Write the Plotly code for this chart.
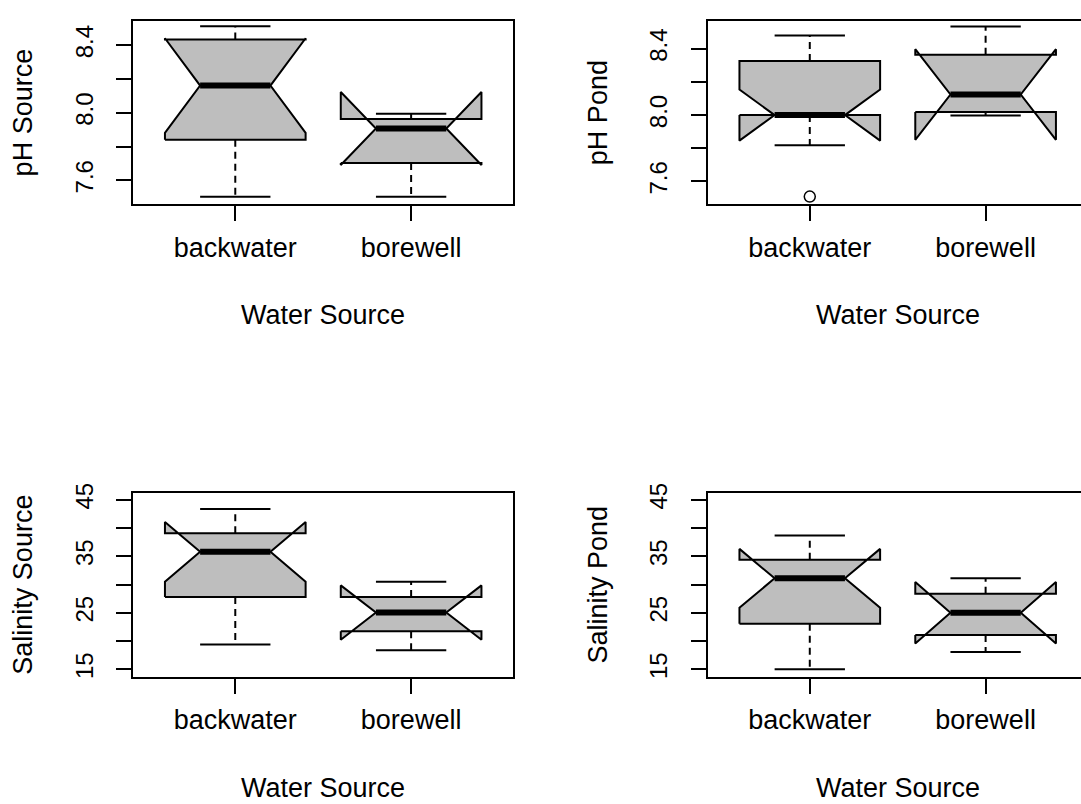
import plotly.graph_objects as go

# ---------------- data ----------------
categories = ["backwater", "borewell"]

ph_source_q1 = [7.840, 7.703]
ph_source_median = [8.161, 7.907]
ph_source_q3 = [8.434, 7.963]
ph_source_lower = [7.503, 7.503]
ph_source_upper = [8.512, 7.994]
ph_source_notch = [0.280, 0.216]

ph_pond_q1 = [8.000, 8.018]
ph_pond_median = [8.000, 8.124]
ph_pond_q3 = [8.326, 8.364]
ph_pond_lower = [7.818, 7.998]
ph_pond_upper = [8.479, 8.534]
ph_pond_notch = [0.154, 0.273]
ph_pond_outlier_cat = ["backwater"]
ph_pond_outlier = [7.509]

sal_source_q1 = [27.80, 21.75]
sal_source_median = [35.79, 25.05]
sal_source_q3 = [39.09, 27.78]
sal_source_lower = [19.40, 18.37]
sal_source_upper = [43.38, 30.50]
sal_source_notch = [5.27, 4.80]

sal_pond_q1 = [23.06, 21.09]
sal_pond_median = [31.10, 25.02]
sal_pond_q3 = [34.40, 28.38]
sal_pond_lower = [15.00, 18.07]
sal_pond_upper = [38.69, 31.10]
sal_pond_notch = [5.21, 5.45]

ph_tickvals = [7.6, 7.8, 8.0, 8.2, 8.4]
ph_ticktext = ["7.6", "", "8.0", "", "8.4"]
sal_tickvals = [15, 20, 25, 30, 35, 40, 45]
sal_ticktext = ["15", "", "25", "", "35", "", "45"]

x_title = "Water Source"

# ---------------- style ----------------
W, H = 1081, 804
FONT = "Liberation Sans, Arial, Helvetica, sans-serif"
FILL = "#bebebe"
BOX_WIDTH = 0.8      # box width in category units
NOTCH_FRAC = 0.5     # inner notch width relative to box (R default)
STAPLE_FRAC = 0.5    # whisker cap width relative to box (R default)
LINE_W = 2
XTITLE_OFFSET = 112.7  # px below the plot frame (centre of the x title)

positions = list(range(1, len(categories) + 1))


def px_x(v):
    return v / W


def px_y(v):
    return 1 - v / H


panels = [
    dict(ax="", title="pH Source", q1=ph_source_q1, med=ph_source_median, q3=ph_source_q3,
         lo=ph_source_lower, hi=ph_source_upper, notch=ph_source_notch,
         xdom=[px_x(133.3), px_x(513.1)], xr=[0.42, 2.58],
         bottom=197.3, top=11, yr=[7.458, 8.544],
         tv=ph_tickvals, tt=ph_ticktext, right=False),
    dict(ax="2", title="pH Pond", q1=ph_pond_q1, med=ph_pond_median, q3=ph_pond_q3,
         lo=ph_pond_lower, hi=ph_pond_upper, notch=ph_pond_notch,
         xdom=[px_x(707.8), 1.0], xr=[0.42, 0.42 + (W - 707.8) / 175.83],
         bottom=197.3, top=11, yr=[7.462, 8.568],
         tv=ph_tickvals, tt=ph_ticktext, right=True),
    dict(ax="3", title="Salinity Source", q1=sal_source_q1, med=sal_source_median, q3=sal_source_q3,
         lo=sal_source_lower, hi=sal_source_upper, notch=sal_source_notch,
         xdom=[px_x(133.3), px_x(513.1)], xr=[0.42, 2.58],
         bottom=676.7, top=490, yr=[13.72, 46.25],
         tv=sal_tickvals, tt=sal_ticktext, right=False),
    dict(ax="4", title="Salinity Pond", q1=sal_pond_q1, med=sal_pond_median, q3=sal_pond_q3,
         lo=sal_pond_lower, hi=sal_pond_upper, notch=sal_pond_notch,
         xdom=[px_x(707.8), 1.0], xr=[0.42, 0.42 + (W - 707.8) / 175.83],
         bottom=676.7, top=490, yr=[13.72, 46.25],
         tv=sal_tickvals, tt=sal_ticktext, right=True),
]

fig = go.Figure()
layout = dict(
    width=W, height=H, margin=dict(l=0, r=0, t=0, b=0),
    paper_bgcolor="white", plot_bgcolor="white", showlegend=False,
    font=dict(family=FONT, color="black"),
    annotations=[],
)

half = BOX_WIDTH / 2
# R's notched box outline: relative x offsets, paired with the stats used for y
BOX_XF = [-1, 1, 1, NOTCH_FRAC, 1, 1, -1, -1, -NOTCH_FRAC, -1, -1]

for p in panels:
    xa = "x" + p["ax"]
    ya = "y" + p["ax"]
    bx, by = [], []
    wx, wy = [], []
    cx, cy = [], []
    mx, my = [], []
    for i, pos in enumerate(positions):
        q1, med, q3 = p["q1"][i], p["med"][i], p["q3"][i]
        lo, hi = p["lo"][i], p["hi"][i]
        ln, un = med - p["notch"][i], med + p["notch"][i]
        ys = [q1, q1, ln, med, un, q3, q3, un, med, ln, q1]
        bx += [pos + f * half for f in BOX_XF] + [None]
        by += ys + [None]
        # whiskers from the hinges outward
        wx += [pos, pos, None, pos, pos, None]
        wy += [q1, lo, None, q3, hi, None]
        # staples
        s = half * STAPLE_FRAC
        cx += [pos - s, pos + s, None, pos - s, pos + s, None]
        cy += [lo, lo, None, hi, hi, None]
        # median
        m = half * NOTCH_FRAC
        mx += [pos - m, pos + m, None]
        my += [med, med, None]

    fig.add_trace(go.Scatter(
        x=wx, y=wy, mode="lines", line=dict(color="black", width=LINE_W, dash="7px,5px"),
        xaxis=xa, yaxis=ya, hoverinfo="skip",
    ))
    fig.add_trace(go.Scatter(
        x=cx, y=cy, mode="lines", line=dict(color="black", width=LINE_W),
        xaxis=xa, yaxis=ya, hoverinfo="skip",
    ))
    fig.add_trace(go.Scatter(
        x=bx, y=by, mode="lines", fill="toself", fillcolor=FILL,
        line=dict(color="black", width=LINE_W),
        xaxis=xa, yaxis=ya, hoverinfo="skip",
    ))
    fig.add_trace(go.Scatter(
        x=mx, y=my, mode="lines", line=dict(color="black", width=6),
        xaxis=xa, yaxis=ya, hoverinfo="skip",
    ))

    axis_common = dict(
        ticks="outside", ticklen=15, tickwidth=2, tickcolor="black",
        showline=True, linewidth=LINE_W, linecolor="black",
        showgrid=False, zeroline=False,
    )
    layout["xaxis" + p["ax"]] = dict(
        domain=p["xdom"], range=p["xr"], anchor=ya,
        tickmode="array", tickvals=positions, ticktext=categories,
        tickfont=dict(size=27, family=FONT, color="black"),
        ticklabelstandoff=3, mirror=True,
        **axis_common,
    )
    layout["yaxis" + p["ax"]] = dict(
        domain=[px_y(p["bottom"]), px_y(p["top"])], range=p["yr"], anchor=xa,
        tickmode="array", tickvals=p["tv"], ticktext=p["tt"], tickangle=-90,
        tickfont=dict(size=24, family=FONT, color="black"),
        ticklabelstandoff=14, mirror=not p["right"],
        title=dict(text=p["title"], font=dict(size=27, family=FONT, color="black"), standoff=30),
        **axis_common,
    )
    # x-axis title, centred on the plot region like R's title(xlab=...)
    layout["annotations"].append(dict(
        text=x_title, showarrow=False,
        xref=xa, x=sum(positions) / len(positions),
        yref="paper", y=px_y(p["bottom"] + XTITLE_OFFSET),
        xanchor="center", yanchor="middle",
        font=dict(size=27, family=FONT, color="black"),
    ))

# outlier of pH Pond / backwater
fig.add_trace(go.Scatter(
    x=[positions[categories.index(c)] for c in ph_pond_outlier_cat], y=ph_pond_outlier,
    mode="markers",
    marker=dict(symbol="circle", size=11, color="white", line=dict(color="black", width=1.5)),
    xaxis="x2", yaxis="y2", hoverinfo="skip", cliponaxis=False,
))

fig.update_layout(**layout)
fig.write_html("out.html")
